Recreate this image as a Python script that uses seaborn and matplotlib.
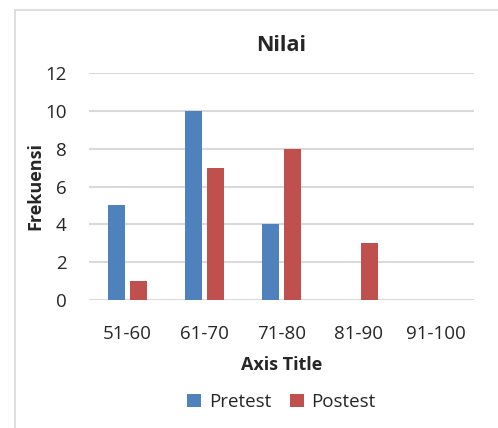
import matplotlib
matplotlib.use("Agg")
import matplotlib.pyplot as plt
import seaborn as sns
import pandas as pd
from matplotlib.patches import Rectangle

categories = ["51-60", "61-70", "71-80", "81-90", "91-100"]
pretest = [5, 10, 4, 0, 0]
postest = [1, 7, 8, 3, 0]
series_names = ["Pretest", "Postest"]
yticks = [0, 2, 4, 6, 8, 10, 12]

df = pd.DataFrame({
    "Kelas": categories * 2,
    "Frekuensi": pretest + postest,
    "Seri": [series_names[0]] * len(categories) + [series_names[1]] * len(categories),
})

sns.set_theme(style="white")
plt.rcParams["font.family"] = ["Open Sans", "DejaVu Sans"]

W, H = 498, 428
fig = plt.figure(figsize=(W / 100, H / 100), dpi=100)
ax = fig.add_axes([89 / W, 1 - 300 / H, (474 - 89) / W, (300 - 73) / H])

# outer frame
fig.patches.append(Rectangle((15 / W, -0.05), 1.1, 1 - 10 / H + 0.05,
                             transform=fig.transFigure, fill=False,
                             edgecolor="#d9d9d9", linewidth=1.2))

sns.barplot(data=df, x="Kelas", y="Frekuensi", hue="Seri", ax=ax,
            palette=["#4f81bd", "#c0504d"], width=0.57, gap=0.22,
            saturation=1, legend=True, edgecolor="none")

ax.set_ylim(0, 12)
ax.set_xlim(-0.5, 4.5)
ax.set_yticks(yticks)
ax.set_yticklabels([str(v) for v in yticks], fontsize=13.5)
ax.tick_params(axis="x", labelsize=13.5, pad=18, length=0)
ax.tick_params(axis="y", pad=16, length=0)
ax.yaxis.grid(True, color="#d9d9d9", linewidth=1.5)
ax.set_axisbelow(True)
for s in ax.spines.values():
    s.set_visible(False)

ax.set_xlabel("Axis Title", fontsize=13, fontweight="bold", labelpad=9)
ax.set_ylabel("Frekuensi", fontsize=13, fontweight="bold", labelpad=1)
ax.set_title("Nilai", fontsize=15.5, fontweight="bold", pad=16)

leg = ax.legend(loc="upper center", bbox_to_anchor=(0.5, -0.335), ncol=2,
                frameon=False, fontsize=13.5, handlelength=0.75, handleheight=0.75,
                columnspacing=1.0, handletextpad=0.4)

fig.savefig("out.png", dpi=100)
